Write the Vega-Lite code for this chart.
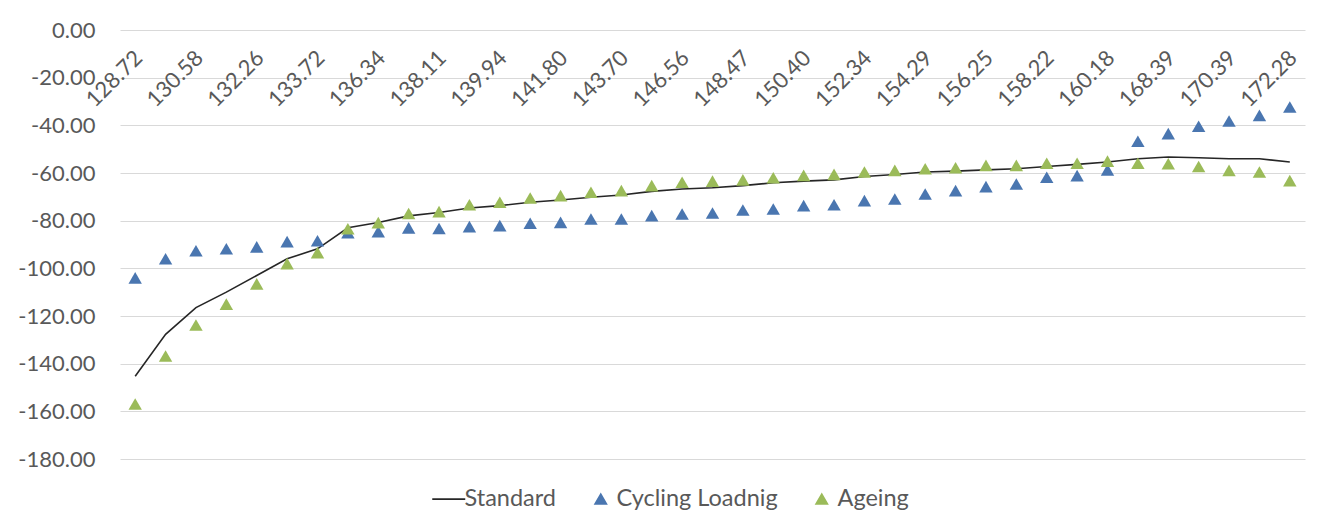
{
  "$schema": "https://vega.github.io/schema/vega-lite/v6.json",
  "width": 1185,
  "height": 429,
  "autosize": {"type": "none"},
  "padding": {"left": 120, "top": 30, "right": 32, "bottom": 66},
  "background": "white",
  "config": {
    "view": {"stroke": null},
    "font": "Lato",
    "axis": {"labelFont": "Lato", "labelFontSize": 22, "labelColor": "#595959", "title": null}
  },
  "data": {
    "values": [
      {"t": "128.72", "Standard": -145.3, "Cycling Loadnig": -104.0, "Ageing": -156.9},
      {"t": "129.65", "Standard": -127.7, "Cycling Loadnig": -96.0, "Ageing": -136.8},
      {"t": "130.58", "Standard": -116.5, "Cycling Loadnig": -92.6, "Ageing": -123.8},
      {"t": "131.42", "Standard": -110.0, "Cycling Loadnig": -91.8, "Ageing": -115.0},
      {"t": "132.26", "Standard": -103.0, "Cycling Loadnig": -91.0, "Ageing": -106.5},
      {"t": "132.99", "Standard": -96.0, "Cycling Loadnig": -88.8, "Ageing": -98.0},
      {"t": "133.72", "Standard": -91.8, "Cycling Loadnig": -88.4, "Ageing": -93.4},
      {"t": "135.03", "Standard": -83.0, "Cycling Loadnig": -85.0, "Ageing": -83.4},
      {"t": "136.34", "Standard": -80.8, "Cycling Loadnig": -84.6, "Ageing": -80.8},
      {"t": "137.22", "Standard": -78.0, "Cycling Loadnig": -83.0, "Ageing": -77.0},
      {"t": "138.11", "Standard": -76.6, "Cycling Loadnig": -83.3, "Ageing": -76.2},
      {"t": "139.02", "Standard": -74.7, "Cycling Loadnig": -82.5, "Ageing": -73.3},
      {"t": "139.94", "Standard": -73.7, "Cycling Loadnig": -82.1, "Ageing": -72.3},
      {"t": "140.87", "Standard": -72.3, "Cycling Loadnig": -81.1, "Ageing": -70.5},
      {"t": "141.80", "Standard": -71.3, "Cycling Loadnig": -80.7, "Ageing": -69.5},
      {"t": "142.75", "Standard": -70.2, "Cycling Loadnig": -79.3, "Ageing": -68.1},
      {"t": "143.70", "Standard": -69.2, "Cycling Loadnig": -79.3, "Ageing": -67.4},
      {"t": "145.13", "Standard": -67.7, "Cycling Loadnig": -77.9, "Ageing": -65.3},
      {"t": "146.56", "Standard": -66.7, "Cycling Loadnig": -77.2, "Ageing": -63.9},
      {"t": "147.51", "Standard": -66.2, "Cycling Loadnig": -76.8, "Ageing": -63.4},
      {"t": "148.47", "Standard": -65.3, "Cycling Loadnig": -75.5, "Ageing": -62.9},
      {"t": "149.43", "Standard": -64.1, "Cycling Loadnig": -75.1, "Ageing": -62.0},
      {"t": "150.40", "Standard": -63.4, "Cycling Loadnig": -73.7, "Ageing": -61.0},
      {"t": "151.37", "Standard": -62.9, "Cycling Loadnig": -73.3, "Ageing": -60.6},
      {"t": "152.34", "Standard": -61.5, "Cycling Loadnig": -71.6, "Ageing": -59.6},
      {"t": "153.31", "Standard": -60.6, "Cycling Loadnig": -70.9, "Ageing": -58.9},
      {"t": "154.29", "Standard": -59.6, "Cycling Loadnig": -68.8, "Ageing": -58.2},
      {"t": "155.27", "Standard": -59.2, "Cycling Loadnig": -67.4, "Ageing": -57.8},
      {"t": "156.25", "Standard": -58.7, "Cycling Loadnig": -65.7, "Ageing": -56.8},
      {"t": "157.23", "Standard": -58.2, "Cycling Loadnig": -64.6, "Ageing": -56.8},
      {"t": "158.22", "Standard": -57.3, "Cycling Loadnig": -61.8, "Ageing": -55.9},
      {"t": "159.20", "Standard": -56.4, "Cycling Loadnig": -61.1, "Ageing": -55.9},
      {"t": "160.18", "Standard": -55.4, "Cycling Loadnig": -58.7, "Ageing": -55.0},
      {"t": "167.38", "Standard": -54.0, "Cycling Loadnig": -46.7, "Ageing": -55.9},
      {"t": "168.39", "Standard": -53.3, "Cycling Loadnig": -43.5, "Ageing": -56.1},
      {"t": "169.39", "Standard": -53.6, "Cycling Loadnig": -40.4, "Ageing": -57.3},
      {"t": "170.39", "Standard": -54.0, "Cycling Loadnig": -38.2, "Ageing": -58.9},
      {"t": "171.33", "Standard": -54.0, "Cycling Loadnig": -35.8, "Ageing": -59.6},
      {"t": "172.28", "Standard": -55.4, "Cycling Loadnig": -32.3, "Ageing": -63.2}
    ]
  },
  "encoding": {
    "x": {
      "field": "t",
      "type": "ordinal",
      "sort": null,
      "scale": {"type": "point", "padding": 0.5},
      "axis": {
        "orient": "bottom",
        "offset": -419,
        "labelAngle": -45,
        "labelPadding": 7,
        "labelOffset": -4,
        "ticks": false,
        "tickSize": 0,
        "domain": false,
        "grid": false,
        "values": ["128.72","130.58","132.26","133.72","136.34","138.11","139.94","141.80","143.70","146.56","148.47","150.40","152.34","154.29","156.25","158.22","160.18","168.39","170.39","172.28"]
      }
    },
    "y": {
      "field": "value",
      "type": "quantitative",
      "scale": {"domain": [-180, 0], "nice": false, "zero": false},
      "axis": {
        "values": [0, -20, -40, -60, -80, -100, -120, -140, -160, -180],
        "labelExpr": "replace(format(datum.value, '.2f'), '\u2212', '-')",
        "grid": true,
        "gridColor": "#D9D9D9",
        "gridWidth": 1,
        "domain": false,
        "ticks": false,
        "tickSize": 0,
        "labelPadding": 25
      }
    },
    "color": {
      "field": "series",
      "type": "nominal",
      "scale": {"domain": ["Standard", "Cycling Loadnig", "Ageing"], "range": ["#262626", "#4A76B0", "#9BBB59"]},
      "legend": {
        "title": null,
        "orient": "none",
        "legendX": 317,
        "legendY": 457,
        "direction": "horizontal",
        "labelFont": "Lato",
        "labelFontSize": 23.5,
        "labelColor": "#595959",
        "labelLimit": 400,
        "symbolSize": 1089,
        "labelOffset": 4,
        "columnPadding": 32,
        "encode": {
          "symbols": {
            "update": {
              "shape": {"signal": "datum.value === 'Standard' ? 'stroke' : 'triangle-up'"},
              "size": {"signal": "datum.value === 'Standard' ? 1089 : 130"},
              "stroke": {"signal": "datum.value === 'Standard' ? '#262626' : 'transparent'"},
              "strokeWidth": {"value": 1.6},
              "fill": {"signal": "datum.value === 'Standard' ? 'transparent' : scale('color', datum.value)"},
              "opacity": {"value": 1}
            }
          }
        }
      }
    }
  },
  "layer": [
    {
      "transform": [{"fold": ["Standard"], "as": ["series", "value"]}],
      "mark": {"type": "line", "strokeWidth": 1.6}
    },
    {
      "transform": [{"fold": ["Cycling Loadnig", "Ageing"], "as": ["series", "value"]}],
      "mark": {"type": "point", "shape": "triangle-up", "filled": true, "size": 180, "opacity": 1}
    }
  ]
}
